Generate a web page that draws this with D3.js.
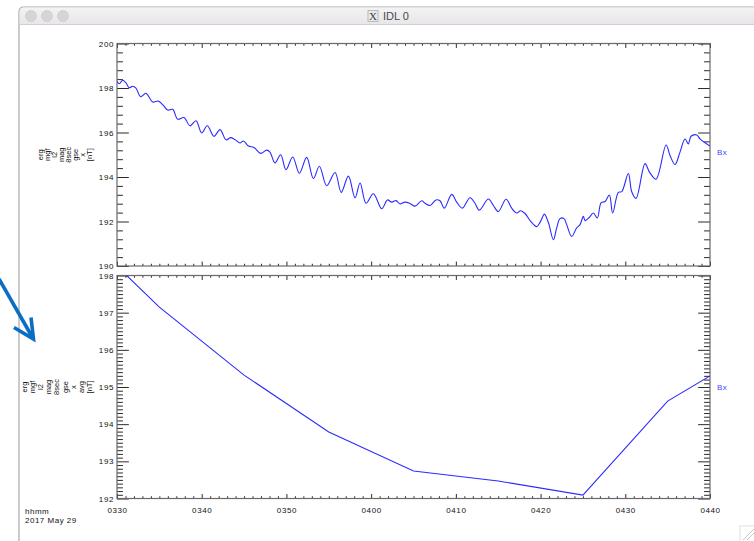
<!DOCTYPE html>
<html>
<head>
<meta charset="utf-8">
<script src="https://cdn.jsdelivr.net/npm/d3@7"></script>
<style>
  html, body { margin: 0; padding: 0; background: #ffffff; }
  svg { display: block; }
  text { font-family: "Liberation Sans", Arial, sans-serif; }
</style>
</head>
<body>
<svg id="chart" width="754" height="541"></svg>
<script>
// ---- data (minutes after 03:30 UT, 2017 May 29) ----
const topMinutes = [0.00,0.28,0.67,1.06,1.46,1.85,2.24,2.79,3.42,4.21,4.88,5.47,5.98,6.57,7.16,7.91,8.62,9.33,10.00,10.66,
  11.45,12.16,12.87,13.42,13.93,14.52,14.92,15.51,16.17,16.96,17.67,18.06,18.65,19.32,19.95,20.74,21.53,22.39,23.18,23.89,
  24.75,25.74,26.47,27.31,28.10,28.69,29.40,30.26,31.25,31.92,32.43,32.94,33.41,34.00,34.59,35.18,35.97,36.36,36.95,37.66,
  38.13,38.64,39.51,40.10,40.77,41.67,42.26,42.77,43.84,44.43,45.02,45.92,46.59,47.18,47.65,48.16,48.83,49.54,49.94,50.45,
  50.72,51.00,51.51,51.90,52.30,52.77,53.08,53.67,54.26,54.66,55.05,55.25,55.76,56.23,56.70,57.14,57.61,58.12,58.51,59.18,
  59.58,60.36,60.76,61.27,62.33,62.84,63.63,64.81,65.28,65.87,66.46,67.05,67.44,67.76,68.43,68.82,69.33,70.00];
const topValues = [198.30,198.19,198.35,198.23,198.01,198.08,197.99,197.61,197.76,197.37,197.41,197.22,197.01,197.04,196.60,196.67,196.30,196.53,195.98,196.30,
  195.83,196.13,195.67,195.77,195.68,195.53,195.62,195.39,195.33,195.06,195.21,195.12,194.63,195.00,194.33,194.90,194.17,194.88,193.93,194.48,
  193.61,194.20,193.31,194.04,193.07,193.73,192.82,193.25,192.57,192.97,192.87,192.94,192.79,192.87,192.81,192.69,192.93,192.82,192.72,192.97,
  192.93,192.60,193.22,192.87,192.60,193.07,192.82,192.51,193.01,192.72,192.45,193.00,192.60,192.38,192.48,192.36,192.01,191.77,191.96,192.33,
  192.16,191.86,191.18,191.71,192.13,192.13,191.86,191.33,191.71,191.86,192.23,192.04,192.19,192.38,192.16,192.84,192.90,193.19,192.38,193.31,
  193.34,194.16,193.34,193.04,194.60,194.23,193.90,195.44,194.97,194.56,195.12,195.71,195.49,195.83,195.89,195.71,195.56,195.39];

const avgMinutes = [0, 5, 15, 25, 35, 45, 55, 65, 70];
const avgValues  = [198.25, 197.15, 195.32, 193.79, 192.74, 192.47, 192.09, 194.62, 195.30];

const xTickLabels = ["0330","0340","0350","0400","0410","0420","0430","0440"];
const topYTicks = [190, 192, 194, 196, 198, 200];
const botYTicks = [192, 193, 194, 195, 196, 197, 198];
const topTitleLines = ["erg","mgf","l2","mag","8sec","gse","x","[nT]"];
const botTitleLines = ["erg","mgf","l2","mag","8sec","gse","x","avg","[nT]"];
const seriesName = "Bx";
const dateLines = ["hhmm", "2017 May 29"];
const windowTitle = "IDL 0";

// ---- layout ----
const svg = d3.select("#chart");
const X0 = 117, X1 = 710;
const topPanel = {y0: 43.5, y1: 266, dom: [190, 200], major: topYTicks, minorStep: 0.4};
const botPanel = {y0: 275.5, y1: 498.5, dom: [192, 198], major: botYTicks, minorStep: 0.1};

// ---- window chrome ----
const defs = svg.append("defs");
const grad = defs.append("linearGradient").attr("id","tb").attr("x1",0).attr("x2",0).attr("y1",0).attr("y2",1);
grad.append("stop").attr("offset","0%").attr("stop-color","#f4f2f4");
grad.append("stop").attr("offset","100%").attr("stop-color","#e8e6e8");

svg.append("path")
  .attr("d", "M19,560 L19,12 Q19,7 24,7 L770,7 L770,560 Z")
  .attr("fill", "#ffffff").attr("stroke", "#a9a9a9").attr("stroke-width", 1.2);
svg.append("path")
  .attr("d", "M19.6,24 L19.6,12 Q19.6,7.6 24,7.6 L770,7.6 L770,24 Z")
  .attr("fill", "url(#tb)");
svg.append("line").attr("x1",19.6).attr("x2",760).attr("y1",24.5).attr("y2",24.5)
  .attr("stroke","#d2d0d2").attr("stroke-width",1);
[31, 47, 63].forEach(cx => {
  svg.append("circle").attr("cx",cx).attr("cy",16).attr("r",5.5)
    .attr("fill","#d6d4d6").attr("stroke","#c6c4c6").attr("stroke-width",0.6);
});
// X icon + title
svg.append("rect").attr("x",368).attr("y",10.5).attr("width",10).attr("height",11)
  .attr("fill","#e9e9e9").attr("stroke","#9a9a9a").attr("stroke-width",0.6);
svg.append("text").attr("x",373).attr("y",20).attr("text-anchor","middle")
  .style("font-family","'Liberation Serif', serif").style("font-size","11px").attr("fill","#444").text("X");
svg.append("text").attr("x",383).attr("y",20).style("font-size","11px").attr("fill","#4a4a4a").text(windowTitle);
// resize corner
svg.append("path").attr("d","M743,540 L754,529 M747,540 L754,533")
  .attr("stroke","#b8b8b8").attr("stroke-width",0.8).attr("fill","none");
svg.append("rect").attr("x",740).attr("y",526).attr("width",16).attr("height",16)
  .attr("fill","none").attr("stroke","#d8d8d8").attr("stroke-width",0.8);

// ---- scales ----
const x = d3.scaleLinear().domain([0, 70]).range([X0, X1]);
const majorX = d3.range(0, 71, 10);
const minorX = d3.range(0, 71, 1).filter(m => m % 10 !== 0);

function drawPanel(p, minutes, values, titleLines, titleX0, titleStep, showXLabels, bxY) {
  const y = d3.scaleLinear().domain(p.dom).range([p.y1, p.y0]);
  const h = p.y1 - p.y0, w = X1 - X0;
  const xLen = 0.02 * h, yLen = 0.02 * w;
  const nMinor = Math.round((p.dom[1] - p.dom[0]) / p.minorStep);
  const minorY = d3.range(0, nMinor + 1).map(i => +(p.dom[0] + i * p.minorStep).toFixed(3))
    .filter(v => !p.major.some(m => Math.abs(m - v) < 1e-6));
  const g = svg.append("g");
  const tickColor = "#2a2a2a";

  function styleAxis(sel) {
    sel.select(".domain").remove();
    sel.selectAll(".tick line").attr("stroke", tickColor).attr("stroke-width", 1);
    sel.selectAll("text").style("font-size","8px").style("letter-spacing","0.6px")
       .style("font-family","'Liberation Sans', Arial, sans-serif").attr("fill","#111");
  }

  // left axis (major with labels)
  g.append("g").attr("transform", `translate(${X0},0)`)
    .call(d3.axisLeft(y).tickValues(p.major).tickSizeInner(-yLen).tickSizeOuter(0).tickPadding(3).tickFormat(d3.format("d")))
    .call(styleAxis);
  g.append("g").attr("transform", `translate(${X0},0)`)
    .call(d3.axisLeft(y).tickValues(minorY).tickSizeInner(-yLen / 2).tickSizeOuter(0).tickFormat(""))
    .call(styleAxis);
  // right axis
  g.append("g").attr("transform", `translate(${X1},0)`)
    .call(d3.axisRight(y).tickValues(p.major).tickSizeInner(-yLen).tickSizeOuter(0).tickFormat(""))
    .call(styleAxis);
  g.append("g").attr("transform", `translate(${X1},0)`)
    .call(d3.axisRight(y).tickValues(minorY).tickSizeInner(-yLen / 2).tickSizeOuter(0).tickFormat(""))
    .call(styleAxis);
  // bottom axis
  g.append("g").attr("transform", `translate(0,${p.y1})`)
    .call(d3.axisBottom(x).tickValues(majorX).tickSizeInner(-xLen).tickSizeOuter(0).tickPadding(9)
      .tickFormat((d, i) => showXLabels ? xTickLabels[i] : ""))
    .call(styleAxis);
  g.append("g").attr("transform", `translate(0,${p.y1})`)
    .call(d3.axisBottom(x).tickValues(minorX).tickSizeInner(-xLen / 2).tickSizeOuter(0).tickFormat(""))
    .call(styleAxis);
  // top axis
  g.append("g").attr("transform", `translate(0,${p.y0})`)
    .call(d3.axisTop(x).tickValues(majorX).tickSizeInner(-xLen).tickSizeOuter(0).tickFormat(""))
    .call(styleAxis);
  g.append("g").attr("transform", `translate(0,${p.y0})`)
    .call(d3.axisTop(x).tickValues(minorX).tickSizeInner(-xLen / 2).tickSizeOuter(0).tickFormat(""))
    .call(styleAxis);

  // frame
  g.append("rect").attr("x", X0).attr("y", p.y0).attr("width", w).attr("height", h)
    .attr("fill", "none").attr("stroke", "#6a6a6a").attr("stroke-width", 1.2);

  // clip + data line
  const cid = "clip" + Math.round(p.y0);
  defs.append("clipPath").attr("id", cid).append("rect")
    .attr("x", X0).attr("y", p.y0).attr("width", w).attr("height", h);
  const data = minutes.map((m, i) => [m, values[i]]);
  g.append("path").datum(data)
    .attr("clip-path", `url(#${cid})`)
    .attr("fill", "none").attr("stroke", "#2b2bff").attr("stroke-width", 1.1)
    .attr("d", d3.line().x(d => x(d[0])).y(d => y(d[1]))
      .curve(minutes.length > 20 ? d3.curveCatmullRom.alpha(0.5) : d3.curveLinear));

  // Bx label
  g.append("text").attr("x", 717).attr("y", bxY).style("font-size","8px").style("letter-spacing","0.5px")
    .attr("fill", "#4747ff").text(seriesName);

  // rotated y title (one line per word)
  const cy = (p.y0 + p.y1) / 2;
  titleLines.forEach((t, i) => {
    const bx = titleX0 + i * titleStep;
    g.append("text").attr("transform", `translate(${bx},${cy}) rotate(-90)`)
      .attr("text-anchor", "middle").style("font-size", "7.5px").attr("fill", "#111").text(t);
  });
}

drawPanel(topPanel, topMinutes, topValues, topTitleLines, 42.5, 7.1, false, 155);
drawPanel(botPanel, avgMinutes, avgValues, botTitleLines, 27, 8.1, true, 390);

// date label
dateLines.forEach((t, i) => {
  svg.append("text").attr("x", 25).attr("y", 514 + i * 9).style("font-size", "8px")
    .style("letter-spacing", "0.5px").attr("fill", "#111").text(t);
});

// annotation arrow
const arrow = svg.append("g").attr("stroke", "#0a6fc2").attr("stroke-width", 3.6)
  .attr("fill", "none").attr("stroke-linecap", "butt").attr("stroke-linejoin", "miter");
arrow.append("line").attr("x1", -1).attr("y1", 279).attr("x2", 32.5).attr("y2", 337.5);
arrow.append("polyline").attr("points", "14,327.5 33.5,339 31,317.5");
</script>
</body>
</html>
